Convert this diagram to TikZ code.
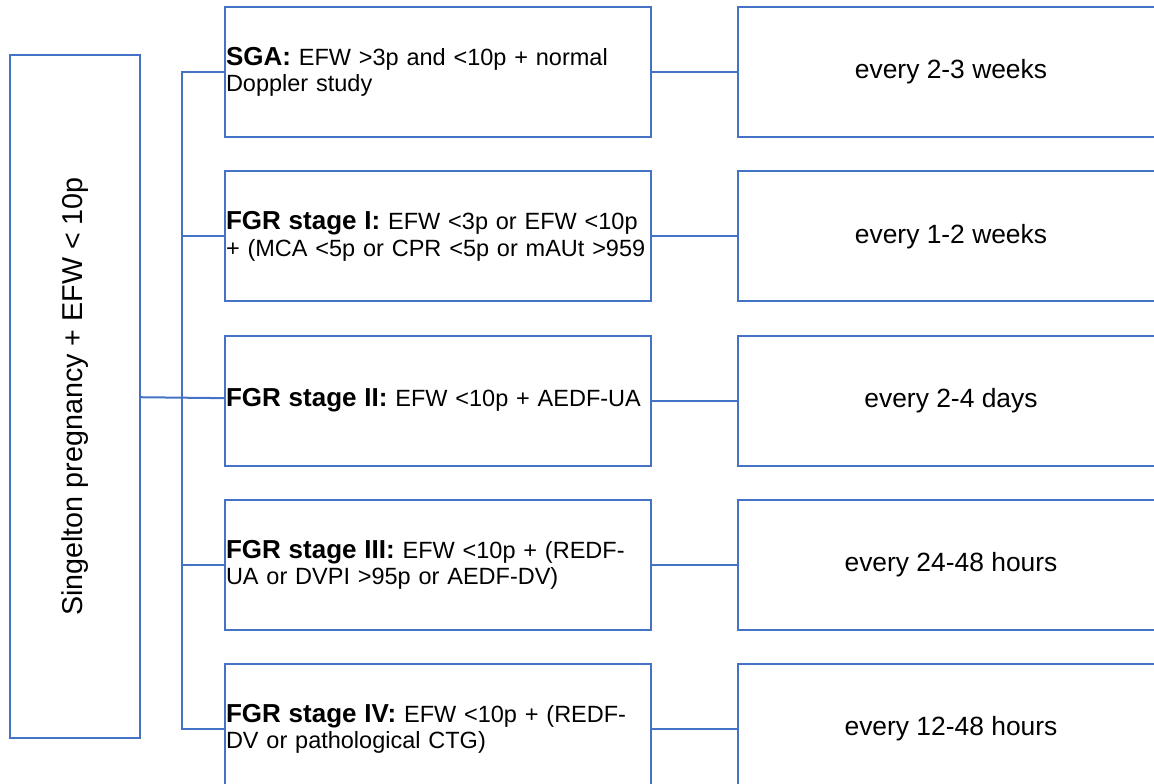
\documentclass[tikz,border=0pt]{standalone}
\usepackage{fontspec}
\setmainfont{Liberation Sans}
\usepackage{tikz}
\usetikzlibrary{positioning, calc}
\definecolor{fgrblue}{RGB}{68, 114, 196}
\newcommand{\stagelabel}[1]{{\fontsize{26}{26.5}\selectfont\textbf{#1}}}

\begin{document}
\begin{tikzpicture}[
  x=1pt, y=1pt,
  framebox/.style={rectangle, draw=fgrblue, line width=2pt, minimum width=426pt, minimum height=130pt},
  stagebox/.style={framebox, text width=424pt, inner xsep=1pt, align=left, font=\fontsize{23.5}{26.5}\selectfont},
  freqbox/.style={framebox, align=center, font=\fontsize{26.4}{30}\selectfont},
  singlebox/.style={rectangle, draw=fgrblue, line width=2pt, minimum width=682pt, minimum height=130pt, rotate=90, font=\fontsize{28.7}{32}\selectfont},
  lnk/.style={draw=fgrblue, line width=2pt}
]
  \useasboundingbox (0,0) rectangle (1154,-784);

  \node[singlebox] (single) at (75,-396.5) {Singelton pregnancy + EFW < 10p};

  \node[stagebox] (sga) at (438,-72) {
    \stagelabel{SGA:} EFW >3p and <10p + normal\\
    Doppler study
  };

  \node[stagebox, below=32.25pt of sga] (stagei) {
    \stagelabel{FGR stage I:} EFW <3p or EFW <10p\\
    + (MCA <5p or CPR <5p or mAUt >959
  };

  \node[stagebox, below=32.25pt of stagei] (stageii) {
    \stagelabel{FGR stage II:} EFW <10p + AEDF-UA
  };

  \node[stagebox, below=32.25pt of stageii] (stageiii) {
    \stagelabel{FGR stage III:} EFW <10p + (REDF-\\
    UA or DVPI >95p or AEDF-DV)
  };

  \node[stagebox, below=32.25pt of stageiii] (stageiv) {
    \stagelabel{FGR stage IV:} EFW <10p + (REDF-\\
    DV or pathological CTG)
  };

  \node[freqbox, right=85pt of sga] (sgafreq) {every 2-3 weeks};
  \node[freqbox, right=85pt of stagei] (stageifreq) {every 1-2 weeks};
  \node[freqbox, right=85pt of stageii] (stageiifreq) {every 2-4 days};
  \node[freqbox, right=85pt of stageiii] (stageiiifreq) {every 24-48 hours};
  \node[freqbox, right=85pt of stageiv] (stageivfreq) {every 12-48 hours};

  \coordinate (trunk) at (182,-396.5);

  \draw[lnk] (single) -- (stageii);
  \draw[lnk] (sga.west) -| (trunk);
  \draw[lnk] (stagei.west) -| (trunk);
  \draw[lnk] (stageiii.west) -| (trunk);
  \draw[lnk] (stageiv.west) -| (trunk);

  \draw[lnk] (sga) -- (sgafreq);
  \draw[lnk] (stagei) -- (stageifreq);
  \draw[lnk] (stageii) -- (stageiifreq);
  \draw[lnk] (stageiii) -- (stageiiifreq);
  \draw[lnk] (stageiv) -- (stageivfreq);

\end{tikzpicture}
\end{document}
